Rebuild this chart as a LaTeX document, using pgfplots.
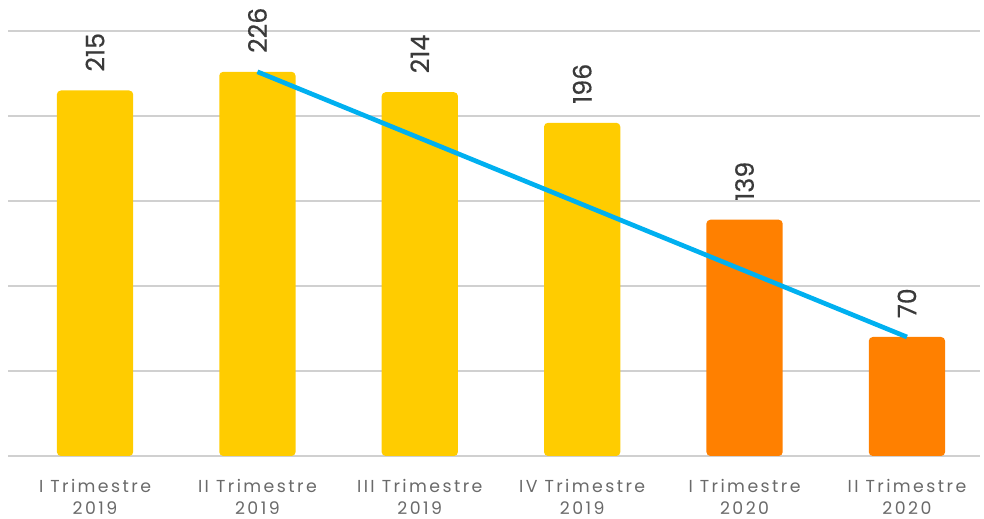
\documentclass[border=0pt]{standalone}
\usepackage{fontspec}
\setmainfont{Poppins}
\usepackage{pgfplots}
\pgfplotsset{compat=1.18}
\definecolor{baryellow}{HTML}{FFCC00}
\definecolor{barorange}{HTML}{FF8000}
\definecolor{trendblue}{HTML}{00B0F0}
\definecolor{gridgray}{HTML}{D0D0D0}
\definecolor{labgray}{HTML}{3A3A3A}
\definecolor{tickgray}{HTML}{6A6A6A}
\begin{document}
\begin{tikzpicture}
\begin{axis}[
  scale only axis,
  width=729pt, height=318.75pt,
  xmin=-0.536, xmax=5.45,
  ymin=0, ymax=250,
  axis line style={draw=none},
  ytick={0,50,100,150,200,250},
  yticklabels={},
  ymajorgrids,
  grid style={gridgray, line width=1.5pt},
  major tick length=0pt,
  xtick={0,1,2,3,4,5},
  xticklabels={{I Trimestre\\2019},{II Trimestre\\2019},{III Trimestre\\2019},{IV Trimestre\\2019},{I Trimestre\\2020},{II Trimestre\\2020}},
  xticklabel style={align=center, font=\fontsize{13}{16.5}\selectfont\addfontfeatures{LetterSpace=14}, text=tickgray, yshift=-14pt},
  ybar, bar width=0.47, bar shift=0pt,
  nodes near coords={\pgfmathprintnumber[assume math mode=true]{\pgfplotspointmeta}},
  every node near coord/.append style={rotate=90, anchor=west, inner sep=0pt, xshift=14pt, font=\fontsize{19}{23}\selectfont\addfontfeatures{FakeBold=0.4}, text=labgray},
  clip=false,
]
\addplot[fill=baryellow, draw=none, rounded corners=3pt] coordinates {(0,215) (1,226) (2,214) (3,196)};
\addplot[fill=barorange, draw=none, rounded corners=3pt] coordinates {(4,139) (5,70)};
\addplot[sharp plot, no markers, nodes near coords={}, draw=trendblue, line width=3.5pt] coordinates {(1,226) (5,70)};
\end{axis}
\pgfresetboundingbox
\path[use as bounding box] ([shift={(-6pt,-47.25pt)}]current axis.south west) rectangle ([shift={(3pt,23.25pt)}]current axis.north east);
\end{tikzpicture}
\end{document}
